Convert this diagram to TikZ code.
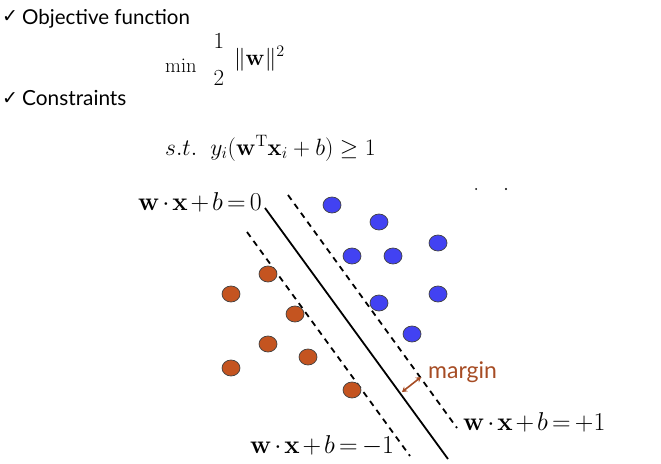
\documentclass[tikz,border=0pt]{standalone}
\usepackage{fix-cm}
\usepackage[no-math]{fontspec}
\usepackage{amsmath,amssymb}
\usetikzlibrary{shapes.geometric,arrows.meta}
\newfontfamily\gillfont{Lato}
\newfontfamily\dejavufont{DejaVu Sans}
\definecolor{ptblue}{RGB}{66,66,242}
\definecolor{ptorange}{RGB}{196,84,32}
\definecolor{marginbrown}{RGB}{166,76,36}
\newcommand\tightmathspacing{\medmuskip=2mu\relax\thickmuskip=3mu\relax}
\begin{document}
\begin{tikzpicture}[x=1pt,y=-1pt,
  txt/.style={inner sep=0pt, anchor=base west},
  bluedot/.style={ellipse, draw=black!75, line width=0.7pt, fill=ptblue, minimum width=18pt, minimum height=16pt, inner sep=0pt},
  orangedot/.style={ellipse, draw=black!75, line width=0.7pt, fill=ptorange, minimum width=18pt, minimum height=16pt, inner sep=0pt},
  hyper/.style={line width=1.8pt, black},
  marginline/.style={line width=1.8pt, black, dash pattern=on 6pt off 5pt},
  eqlabel/.style={inner sep=0pt, font=\fontsize{25.8}{26}\selectfont\tightmathspacing},
  marrow/.style={line width=1.6pt, marginbrown, {Stealth[length=5pt,width=6pt]}-{Stealth[length=5pt,width=6pt]}}
]
\useasboundingbox (0,0) rectangle (661,463);

% bullet texts
\node[txt] (chk1) at (2,23) {\dejavufont\fontsize{19}{19}\selectfont ✓};
\node[txt] (obj) at (22,24) {\gillfont\fontsize{20.5}{20.5}\selectfont Objective function};
\node[txt] (chk2) at (2,104) {\dejavufont\fontsize{19}{19}\selectfont ✓};
\node[txt] (cons) at (22,105) {\gillfont\fontsize{20.8}{20.8}\selectfont Constraints};

% objective
\node[txt] (minop) at (165,72) {\fontsize{20.5}{20.5}\selectfont$\min$};
\node[inner sep=0pt] (one) at (219,41) {\fontsize{23}{23}\selectfont$1$};
\node[inner sep=0pt] (two) at (219,78) {\fontsize{23}{23}\selectfont$2$};
\node[txt] (normw) at (234,65) {\fontsize{23}{23}\selectfont$\|\mathbf{w}\|^2$};

% constraint
\node[txt] (st) at (165,155) {\fontsize{23.6}{23.6}\selectfont$s.t.\;\; y_i(\mathbf{w}^{\mathrm{T}}\mathbf{x}_i+b)\geq 1$};

% lines
\coordinate (h0a) at (265,208);
\coordinate (h0b) at (448,459);
\coordinate (hma) at (247,232);
\coordinate (hmb) at (410,456);
\coordinate (hpa) at (288,195);
\coordinate (hpb) at (457,428);
\draw[hyper] (h0a) -- (h0b);
\draw[marginline] (hma) -- (hmb);
\draw[marginline] (hpa) -- (hpb);

% blue points
\foreach \n/\p in {b1/{(332,205)}, b2/{(379,222)}, b3/{(438,243)}, b4/{(352,256)}, b5/{(393,256)}, b6/{(438,294)}, b7/{(379,303)}, b8/{(412,334)}}
  \node[bluedot] (\n) at \p {};
% orange points
\foreach \n/\p in {o1/{(268,274)}, o2/{(231,294)}, o3/{(295,314)}, o4/{(268,344)}, o5/{(308,357)}, o6/{(231,368)}, o7/{(352,390)}}
  \node[orangedot] (\n) at \p {};

% labels
\node[eqlabel, anchor=base east] (l0) at (262,210) {$\mathbf{w}\cdot\mathbf{x}+b=0$};
\node[eqlabel, anchor=base west] (lm) at (250,453) {$\mathbf{w}\cdot\mathbf{x}+b=-1$};
\node[eqlabel, anchor=base west] (lp) at (463,430) {$\mathbf{w}\cdot\mathbf{x}+b=+1$};

% margin
\coordinate (ma) at (402,392);
\coordinate (mb) at (421,377);
\draw[marrow] (ma) -- (mb);
\node[txt, text=marginbrown] (mtext) at (428,378) {\gillfont\fontsize{23}{23}\selectfont margin};

% small specks
\fill[black] (476,189) circle (1pt) coordinate (s1);
\fill[black] (506,189) circle (1.1pt) coordinate (s2);
\end{tikzpicture}
\end{document}
